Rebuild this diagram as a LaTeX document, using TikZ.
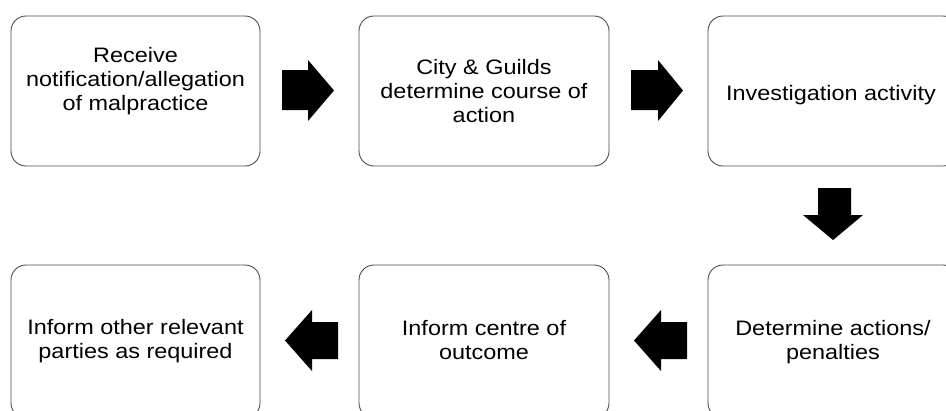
\documentclass[tikz,border=0pt]{standalone}
\usepackage{fontspec}
\setmainfont[FakeStretch=1.12]{Liberation Sans}
\begin{document}
\begin{tikzpicture}[x=1bp,y=-1bp,
  box/.style={draw=black!70,line width=0.9bp,rounded corners=15bp,fill=white},
  txt/.style={anchor=base,align=center,inner sep=0pt,font=\fontsize{21}{24}\selectfont},
  blk/.style={fill=black,draw=none}]
\useasboundingbox (0,0) rectangle (946,410);
% boxes
\draw[box] (11,16) rectangle (260,166);
\draw[box] (359,16) rectangle (609,166);
\draw[box] (708,16) rectangle (958,166);
\draw[box] (11,265) rectangle (260,418);
\draw[box] (359,265) rectangle (609,418);
\draw[box] (708,265) rectangle (958,418);
% texts (base anchor = baseline of last line)
\node[txt] (t1) at (135.5,110) {Receive\\notification/allegation\\of malpractice};
\node[txt] (t2) at (484,122) {City \& Guilds\\determine course of\\action};
\node[txt] (t3) at (831,100) {Investigation activity};
\node[txt] (t4) at (833,359) {Determine actions/\\penalties};
\node[txt] (t5) at (484,359) {Inform centre of\\outcome};
\node[txt] (t6) at (135.5,358) {Inform other relevant\\parties as required};
% block arrows
\fill[blk] (282,70) -- (308,70) -- (308,60) -- (334,90.5) -- (308,121) -- (308,110) -- (282,110) -- cycle;
\fill[blk] (631,70) -- (658,70) -- (658,60) -- (683,90.5) -- (658,121) -- (658,110) -- (631,110) -- cycle;
\fill[blk] (818,188) -- (851,188) -- (851,215) -- (863,215) -- (833,240) -- (803,215) -- (818,215) -- cycle;
\fill[blk] (687,322) -- (661,322) -- (661,310) -- (634,340.5) -- (661,371) -- (661,359) -- (687,359) -- cycle;
\fill[blk] (338,322) -- (312,322) -- (312,310) -- (285,340.5) -- (312,371) -- (312,359) -- (338,359) -- cycle;
\end{tikzpicture}
\end{document}
